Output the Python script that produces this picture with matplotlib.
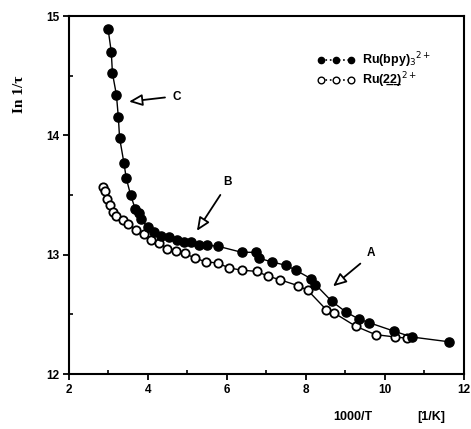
import matplotlib
matplotlib.use("Agg")
import matplotlib.pyplot as plt
from matplotlib.lines import Line2D
from matplotlib.ticker import MultipleLocator

# Ru(bpy)3 2+ (filled circles)
bpy_x = [2.99, 3.07, 3.10, 3.20, 3.25, 3.28, 3.39, 3.45, 3.56, 3.68, 3.76, 3.82,
         3.99, 4.16, 4.33, 4.53, 4.74, 4.91, 5.08, 5.29, 5.50, 5.78, 6.37, 6.73,
         6.81, 7.13, 7.50, 7.74, 8.12, 8.24, 8.65, 9.01, 9.34, 9.60, 10.22, 10.68, 11.62]
bpy_y = [14.89, 14.70, 14.52, 14.34, 14.15, 13.98, 13.77, 13.64, 13.50, 13.38, 13.35, 13.30,
         13.23, 13.19, 13.16, 13.15, 13.12, 13.11, 13.11, 13.08, 13.08, 13.07, 13.02, 13.02,
         12.97, 12.94, 12.91, 12.87, 12.80, 12.75, 12.61, 12.52, 12.46, 12.43, 12.36, 12.31, 12.27]

# Ru(22) 2+ (open circles)
r22_x = [2.86, 2.90, 2.95, 3.03, 3.11, 3.20, 3.36, 3.49, 3.70, 3.91, 4.08, 4.28, 4.49,
         4.70, 4.93, 5.20, 5.46, 5.77, 6.04, 6.37, 6.75, 7.04, 7.34, 7.80, 8.05, 8.51,
         8.72, 9.26, 9.76, 10.26, 10.56]
r22_y = [13.57, 13.53, 13.47, 13.42, 13.36, 13.32, 13.29, 13.26, 13.21, 13.17, 13.12, 13.10,
         13.05, 13.03, 13.01, 12.97, 12.94, 12.93, 12.89, 12.87, 12.86, 12.82, 12.79, 12.74,
         12.70, 12.54, 12.51, 12.40, 12.33, 12.31, 12.30]

x_ticks = [2, 4, 6, 8, 10, 12]
y_ticks = [12, 13, 14, 15]

fig = plt.figure(figsize=(4.71, 4.29), dpi=100)
ax = fig.add_axes([0.1465, 0.1282, 0.8386, 0.8345])

ax.plot(bpy_x, bpy_y, '-', color='black', lw=1.0, marker='o', ms=6.6,
        mfc='black', mec='black', zorder=3)
ax.plot(r22_x, r22_y, '-', color='black', lw=1.0, marker='o', ms=6.0,
        mfc='white', mec='black', mew=1.3, zorder=2)

ax.set_xlim(2, 12)
ax.set_ylim(12, 15)
ax.set_xticks(x_ticks)
ax.set_yticks(y_ticks)
ax.xaxis.set_minor_locator(MultipleLocator(1))
ax.yaxis.set_minor_locator(MultipleLocator(0.5))
ax.tick_params(which='major', direction='out', length=4, width=1.3, labelsize=8.5, pad=3)
ax.tick_params(which='minor', direction='in', length=3, width=1.2)
for lab in ax.get_xticklabels() + ax.get_yticklabels():
    lab.set_fontweight('bold')
    lab.set_family('Liberation Sans')
for s in ax.spines.values():
    s.set_linewidth(1.5)

ax.set_ylabel('In 1/τ', family='Liberation Serif', fontsize=11, fontweight='bold')
ax.yaxis.set_label_coords(-0.11, 0.78)
fig.text(0.75, 0.02, '1000/T', fontsize=9, fontweight='bold', family='Liberation Sans', ha='center')
fig.text(0.915, 0.02, '[1/K]', fontsize=9, fontweight='bold', family='Liberation Sans', ha='center')

# annotations
arrow = dict(arrowstyle='-|>,head_length=0.8,head_width=0.35', fc='white', ec='black', lw=1.3)
ax.annotate('', xy=(3.45, 14.28), xytext=(4.50, 14.32), arrowprops=arrow)
ax.text(4.74, 14.32, 'C', fontsize=8.5, fontweight='bold', family='Liberation Sans', va='center', ha='center')
ax.annotate('', xy=(5.2, 13.18), xytext=(5.87, 13.52), arrowprops=arrow)
ax.text(6.02, 13.61, 'B', fontsize=8.5, fontweight='bold', family='Liberation Sans', va='center', ha='center')
ax.annotate('', xy=(8.63, 12.72), xytext=(9.43, 12.94), arrowprops=arrow)
ax.text(9.65, 13.01, 'A', fontsize=8.5, fontweight='bold', family='Liberation Sans', va='center', ha='center')

# legend
h1 = Line2D([], [], ls=':', color='black', lw=1.2, marker='o', ms=4.5, mfc='black', mec='black')
h2 = Line2D([], [], ls=':', color='black', lw=1.2, marker='o', ms=4.8, mfc='white', mec='black', mew=1.0)
leg = ax.legend([h1, h2], ['Ru(bpy)$_3$$^{2+}$', 'Ru(2\u03322\u0332)$^{2+}$'],
                loc='upper right', bbox_to_anchor=(0.945, 0.935), frameon=False,
                numpoints=3, handlelength=3.0, handletextpad=0.6, labelspacing=0.0,
                prop={'family': 'Liberation Sans', 'weight': 'bold', 'size': 9})

fig.savefig('out.png', dpi=100)
